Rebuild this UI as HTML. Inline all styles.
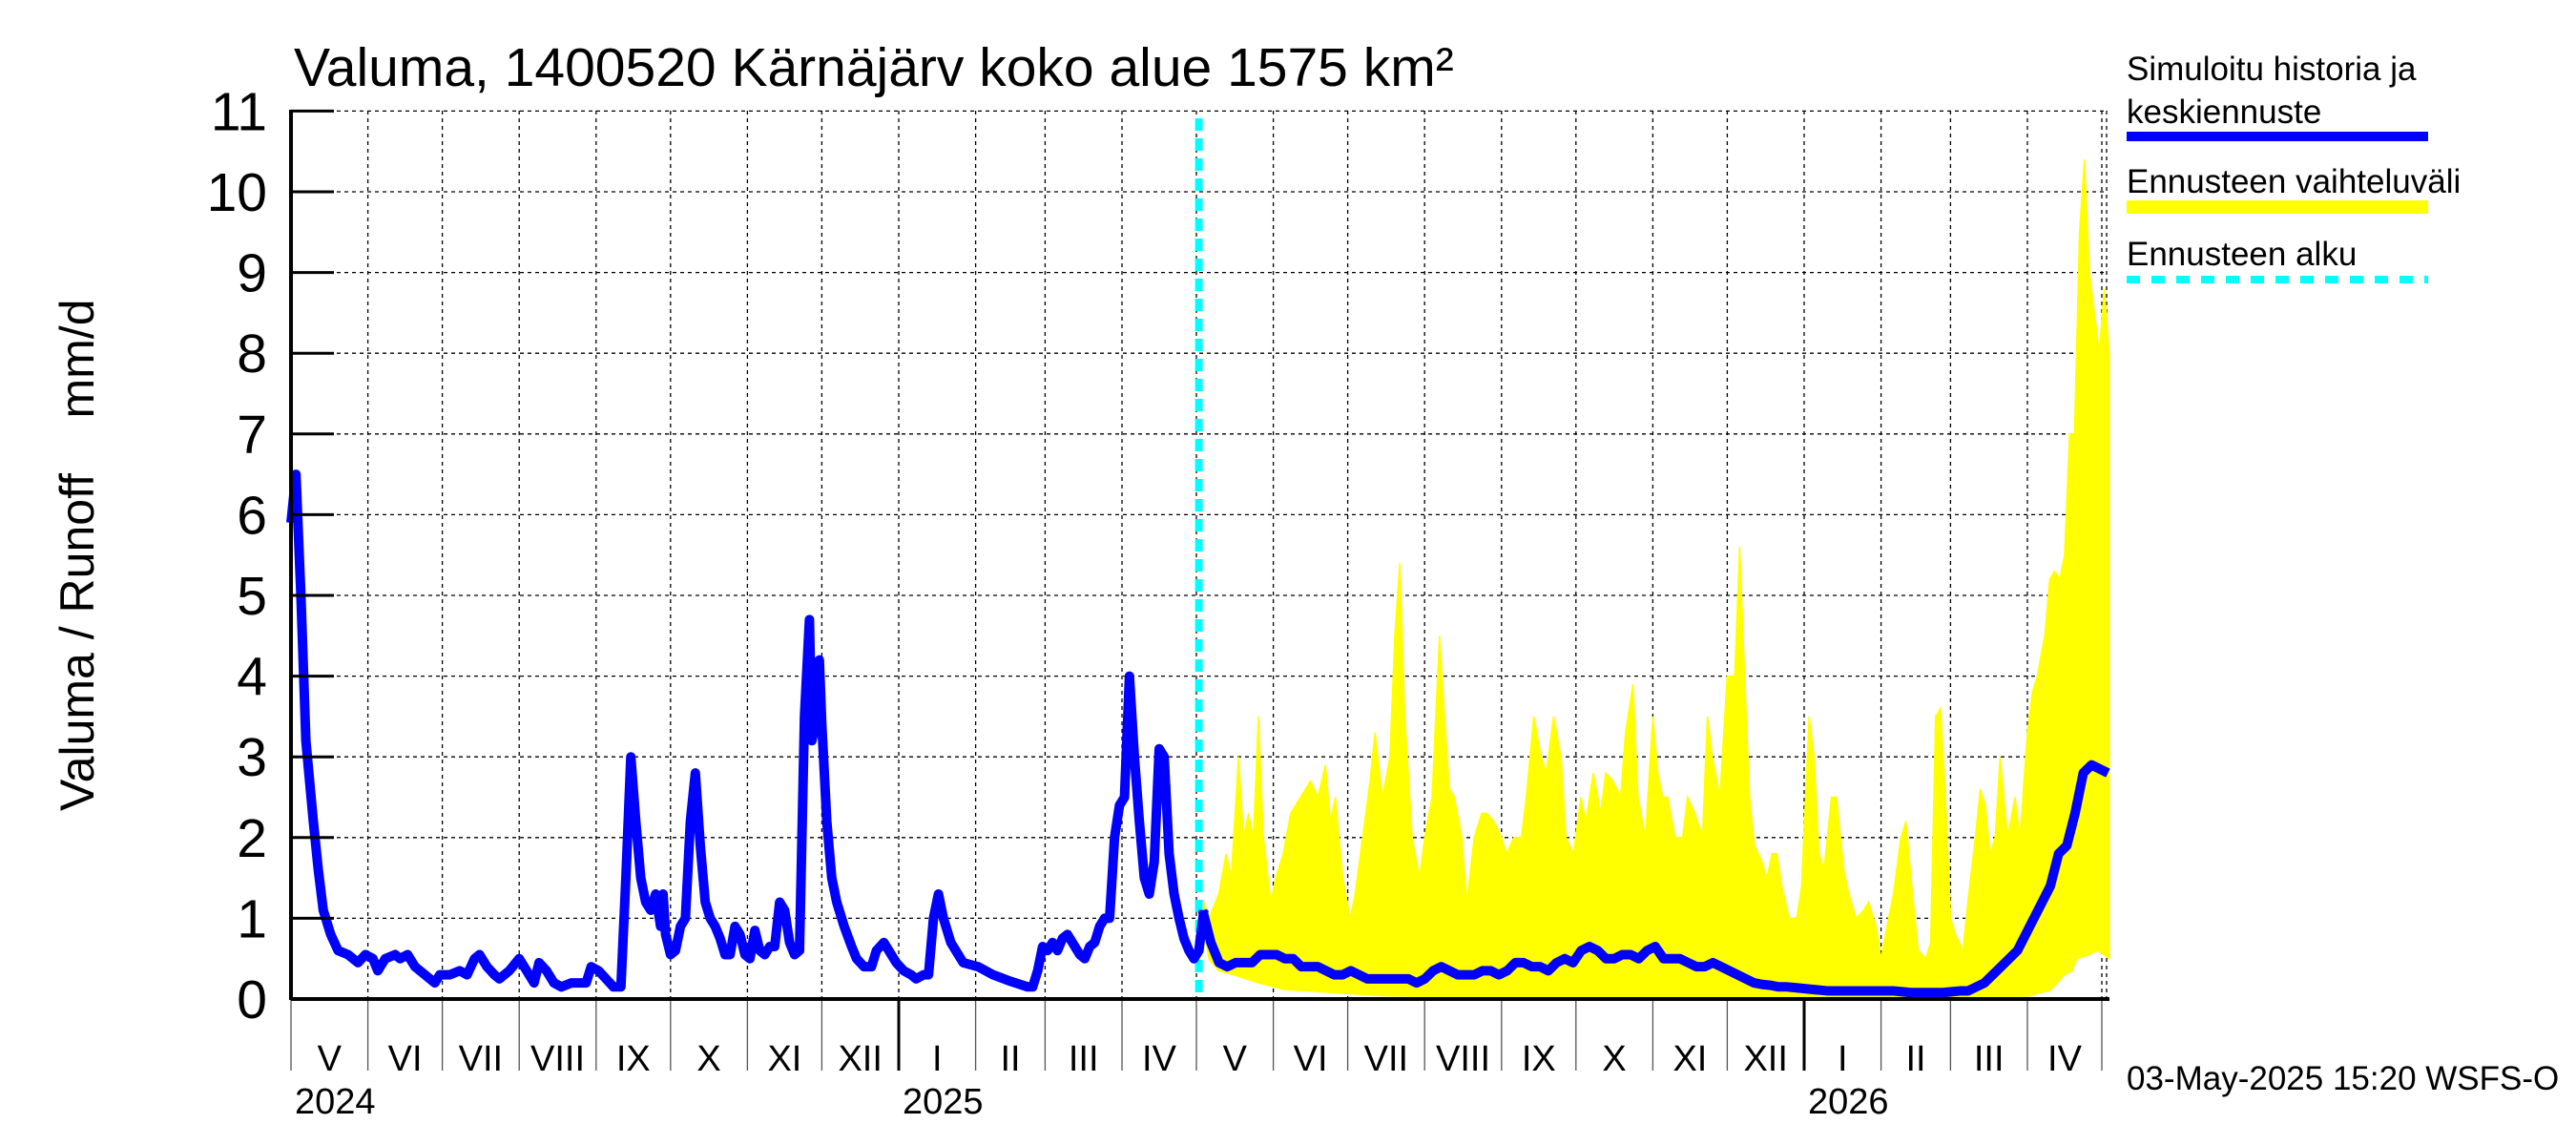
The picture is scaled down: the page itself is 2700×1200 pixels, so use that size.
<!DOCTYPE html>
<html><head><meta charset="utf-8"><style>
html,body{margin:0;padding:0;background:#fff;}
svg{display:block;font-family:"Liberation Sans",sans-serif;}
</style></head><body>
<svg id="chart" width="2700" height="1200" viewBox="0 0 2700 1200" xmlns="http://www.w3.org/2000/svg">
<text x="308" y="90" font-size="57">Valuma, 1400520 Kärnäjärv koko alue 1575 km²</text>
<g id="grid"></g>
<g id="band"></g>
<g id="lines"></g>
<g id="axes"></g>
<text transform="translate(98,673) rotate(-90)" font-size="50" text-anchor="middle">Valuma / Runoff</text>
<text transform="translate(98,376) rotate(-90)" font-size="50" text-anchor="middle">mm/d</text>
<g>
<text x="2229" y="84" font-size="35">Simuloitu historia ja</text>
<text x="2229" y="129" font-size="35">keskiennuste</text>
<line x1="2229" y1="143" x2="2545" y2="143" stroke="#0000ff" stroke-width="10"/>
<text x="2229" y="202" font-size="35">Ennusteen vaihteluväli</text>
<line x1="2229" y1="217" x2="2545" y2="217" stroke="#ffff00" stroke-width="14"/>
<text x="2229" y="278" font-size="35">Ennusteen alku</text>
<line x1="2229" y1="293" x2="2545" y2="293" stroke="#00ffff" stroke-width="8" stroke-dasharray="14,12"/>
</g>
<text x="2229" y="1142" font-size="35">03-May-2025 15:20 WSFS-O</text>
</svg>
<script>
const histDays=[0,2,4,6,9,11,13,16,19,23,27,30,33,35,38,42,44,47,50,54,58,60,64,68,71,74,76,79,82,84,88,92,95,98,100,103,106,109,113,116,119,121,124,127,130,133,135,137,139,141,143,145,147,149,150,151,153,155,157,159,161,163,165,167,169,171,173,175,177,179,181,183,185,187,189,191,193,195,197,199,201,203,205,207,209,210,212,213,214,216,218,220,223,226,228,231,234,236,239,242,244,247,250,252,255,257,259,261,263,266,269,271,277,283,290,297,299,301,303,305,307,309,311,313,315,318,320,322,324,326,328,330,332,334,336,338,340,342,344,346,348,350,352,354,356,358,360,362,364,366,368];
const histVals=[5.9,6.5,5,3.2,2.2,1.6,1.1,0.8,0.6,0.55,0.45,0.55,0.5,0.35,0.5,0.55,0.5,0.55,0.4,0.3,0.2,0.3,0.3,0.35,0.3,0.5,0.55,0.4,0.3,0.25,0.35,0.5,0.35,0.2,0.45,0.35,0.2,0.15,0.2,0.2,0.2,0.4,0.35,0.25,0.15,0.15,1.5,3.0,2.2,1.5,1.2,1.1,1.3,0.9,1.3,0.8,0.55,0.6,0.9,1.0,2.2,2.8,1.9,1.2,1.0,0.9,0.75,0.55,0.55,0.9,0.8,0.55,0.5,0.85,0.6,0.55,0.65,0.65,1.2,1.1,0.7,0.55,0.6,3.5,4.7,3.2,3.5,4.2,3.4,2.2,1.5,1.2,0.9,0.65,0.5,0.4,0.4,0.6,0.7,0.55,0.45,0.35,0.3,0.25,0.3,0.3,1.0,1.3,1.0,0.7,0.55,0.45,0.4,0.3,0.22,0.15,0.15,0.35,0.65,0.6,0.7,0.6,0.75,0.8,0.7,0.55,0.5,0.65,0.7,0.9,1.0,1.0,2.0,2.4,2.5,4.0,3.0,2.2,1.5,1.3,1.7,3.1,3.0,1.8,1.3,1.0,0.75,0.6,0.5,0.6,1.1];
const medStartDay=367.5, medStepDays=3.318;
const medVals=[1.1,0.7,0.45,0.4,0.45,0.45,0.45,0.55,0.55,0.55,0.5,0.5,0.4,0.4,0.4,0.35,0.3,0.3,0.35,0.3,0.25,0.25,0.25,0.25,0.25,0.25,0.2,0.25,0.35,0.4,0.35,0.3,0.3,0.3,0.35,0.35,0.3,0.35,0.45,0.45,0.4,0.4,0.35,0.45,0.5,0.45,0.6,0.65,0.6,0.5,0.5,0.55,0.55,0.5,0.6,0.65,0.5,0.5,0.5,0.45,0.4,0.4,0.45,0.4,0.35,0.3,0.25,0.2,0.18,0.17,0.15,0.15,0.14,0.13,0.12,0.11,0.1,0.1,0.1,0.1,0.1,0.1,0.1,0.1,0.1,0.09,0.08,0.08,0.08,0.08,0.08,0.09,0.1,0.1,0.15,0.2,0.3,0.4,0.5,0.6,0.8,1.0,1.2,1.4,1.8,1.9,2.3,2.8,2.9,2.85,2.8];
const upDays=[368,370,374,377,379,382,384,386,388,390,392,395,397,400,403,407,409,411,414,417,419,421,424,427,429,432,435,437,440,443,445,447,449,452,455,457,460,463,465,467,469,472,474,477,480,482,485,488,490,493,496,498,501,504,506,509,512,514,517,520,522,525,528,530,533,536,538,541,543,546,549,551,553,555,558,561,563,566,569,571,573,576,579,582,584,586,588,590,593,595,597,599,601,604,607,609,612,614,616,618,621,623,626,628,631,634,636,639,641,644,646,649,651,654,656,659,661,663,665,667,669,671,674,676,679,681,683,685,687,689,692,695,697,700,702,704,707,709,711,713,715,717,719,721,723,725,727,729,731,733];
const upVals=[1.2,1.0,1.3,1.8,1.5,3.0,2.0,2.3,2.0,3.5,2.0,1.2,1.5,1.8,2.3,2.5,2.6,2.7,2.5,2.9,2.2,2.5,1.5,1.0,1.3,2.0,2.7,3.3,2.5,3.0,4.5,5.4,3.5,2.0,1.5,2.0,2.5,4.5,3.5,2.6,2.5,2.0,1.2,2.0,2.3,2.3,2.2,2.0,1.8,2.0,2.0,2.5,3.5,3.0,2.8,3.5,3.0,2.0,1.8,2.5,2.2,2.8,2.3,2.8,2.7,2.5,3.3,3.9,2.5,2.0,3.5,2.8,2.5,2.5,2.0,2.0,2.5,2.3,2.0,3.5,3.0,2.5,4.0,4.0,5.6,4.0,2.5,1.9,1.7,1.5,1.8,1.8,1.4,1.0,1.0,1.4,3.5,3.0,1.8,1.6,2.5,2.5,1.6,1.3,1.0,1.1,1.2,0.9,0.5,1.0,1.3,2.0,2.2,1.2,0.6,0.5,0.7,3.5,3.6,2.5,1.0,0.8,0.6,1.2,2.0,2.6,2.4,1.8,2.0,3.0,2.0,2.5,2.0,3.3,3.8,4.0,4.5,5.2,5.3,5.2,5.5,7.0,7.0,9.5,10.4,9.0,8.5,8.0,8.8,8.0];
const lowDays=[368,370,374,380,390,400,420,440,460,500,600,650,690,700,705,709,712,715,718,720,725,728,731,733];
const lowVals=[0.9,0.5,0.35,0.3,0.2,0.12,0.08,0.04,0.03,0.02,0.02,0.02,0.02,0.03,0.08,0.1,0.2,0.3,0.35,0.5,0.55,0.6,0.55,0.5];
const yTicks=[0,1,2,3,4,5,6,7,8,9,10,11];
const monthLabels=["V","VI","VII","VIII","IX","X","XI","XII","I","II","III","IV","V","VI","VII","VIII","IX","X","XI","XII","I","II","III","IV"];
const yearLabels=["2024","2025","2026"];
const forecastStartDay=366;

const X0=305,PXD=2.6,Y0=1047,PXV=84.6,XEND=2208,YTOP=116;
const sx=d=>X0+d*PXD, sy=v=>Y0-v*PXV;
const NS="http://www.w3.org/2000/svg";
function mk(tag,attrs,parent){const e=document.createElementNS(NS,tag);for(const k in attrs)e.setAttribute(k,attrs[k]);parent.appendChild(e);return e;}
const grid=document.getElementById('grid'),axes=document.getElementById('axes'),band=document.getElementById('band'),lines=document.getElementById('lines');
const start=new Date(2024,4,1);
const bounds=[];
for(let i=0;i<=24;i++){const d=new Date(2024,4+i,1);bounds.push(Math.round((d-start)/864e5));}
bounds.forEach((d,i)=>{
  const x=sx(d); if(x>XEND+1)return;
  const isJan=((4+i)%12)===0;
  const g=mk('line',{x1:x,y1:YTOP,x2:x,y2:Y0,stroke:'#000','stroke-width':1.3,'stroke-dasharray':'4,4'},grid);
  
  
  const t=mk('line',{x1:x,y1:Y0,x2:x,y2:1122,stroke:isJan?'#000':'#555','stroke-width':isJan?3:1.3},axes);
  
  
});
mk('line',{x1:XEND,y1:YTOP,x2:XEND,y2:Y0,stroke:'#000','stroke-width':1.3,'stroke-dasharray':'4,4'},grid);
monthLabels.forEach((m,i)=>{
  const x=(sx(bounds[i])+sx(Math.min(bounds[i+1],732)))/2;
  const t=mk('text',{x:x,y:1122,'font-size':38,'text-anchor':'middle'},axes);t.textContent=m;
  
  
});
[0,8,20].forEach((bi,i)=>{
  const t=mk('text',{x:sx(bounds[bi])+4,y:1167,'font-size':38},axes);t.textContent=yearLabels[i];
  
  
});
yTicks.forEach(v=>{
  const y=sy(v);
  const g=mk('line',{x1:X0,y1:y,x2:XEND,y2:y,stroke:'#000','stroke-width':1.3,'stroke-dasharray':'4,4'},grid);
  
  
  const tk=mk('line',{x1:X0,y1:y,x2:X0+45,y2:y,stroke:'#000','stroke-width':3},axes);
  
  
  const t=mk('text',{x:280,y:y+20,'font-size':57,'text-anchor':'end'},axes);t.textContent=v;
  
  
});
let pts=upDays.map((d,i)=>sx(d)+','+sy(upVals[i]));
for(let i=lowDays.length-1;i>=0;i--)pts.push(sx(lowDays[i])+','+sy(lowVals[i]));
const poly=mk('polygon',{points:pts.join(' '),fill:'#ffff00',stroke:'#ffff00','stroke-width':1.5},band);


const fl=mk('line',{x1:sx(forecastStartDay),y1:YTOP+8,x2:sx(forecastStartDay),y2:Y0,stroke:'#00ffff','stroke-width':8,'stroke-dasharray':'13,8'},lines);


const hp=mk('polyline',{points:histDays.map((d,i)=>sx(d)+','+sy(histVals[i])).join(' '),fill:'none',stroke:'#0000ff','stroke-width':10,'stroke-linejoin':'round'},lines);


const mp=mk('polyline',{points:medVals.map((v,i)=>sx(medStartDay+i*medStepDays)+','+sy(v)).join(' '),fill:'none',stroke:'#0000ff','stroke-width':10,'stroke-linejoin':'round'},lines);


mk('line',{x1:X0,y1:YTOP-1,x2:X0,y2:Y0+1,stroke:'#000','stroke-width':4},axes);
mk('line',{x1:X0,y1:Y0,x2:XEND+3,y2:Y0,stroke:'#000','stroke-width':4},axes);
</script>
</body></html>
